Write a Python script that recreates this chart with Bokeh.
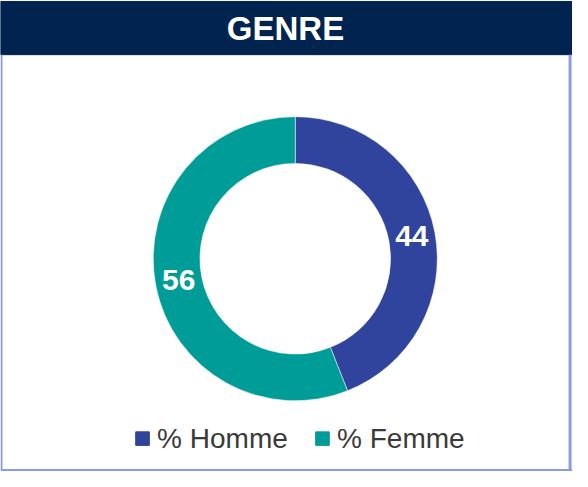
import math
from bokeh.plotting import figure
from bokeh.models import Range1d, ColumnDataSource
from bokeh.core.properties import value
from bokeh.embed import file_html
from bokeh.resources import INLINE

# ---- data ----
title = "GENRE"
categories = ["% Homme", "% Femme"]
values = [44, 56]
colors = ["#30439D", "#009C97"]

W, H = 572, 471
RW, RH = 588, 487
# data coords: x = reference x, y = RH - reference y
p = figure(width=W, height=H, output_backend="svg", toolbar_location=None,
           x_range=Range1d(0, RW), y_range=Range1d(0, RH),
           x_axis_type=None, y_axis_type=None, min_border=0,
           outline_line_color=None, background_fill_color="white")
p.grid.visible = False

# header band
p.quad(left=[0], right=[RW], bottom=[RH - 56], top=[RH - 1], color="#00234F")
p.text(x=[293], y=[RH - 29], text=[title], text_color="white",
       text_font=value("Liberation Sans"), text_font_style="bold",
       text_font_size="33px", text_align="center", text_baseline="middle")

# border
bc = "#8A9BE3"
p.segment(x0=[1, 585.5, 0], y0=[RH - 56, RH - 56, 1.5], x1=[1, 585.5, RW], y1=[1.5, 1.5, 1.5],
          line_color=bc, line_width=[2, 3, 2])

# donut
cx, cy = 303, RH - 267
r_out, r_in = 146, 98
total = sum(values)
starts, ends, mids = [], [], []
a = math.pi / 2
for v in values:
    s = a
    e = a - v / total * 2 * math.pi
    starts.append(s)
    ends.append(e)
    mids.append((s + e) / 2)
    a = e
src = ColumnDataSource(dict(start=starts, end=ends, color=colors))
p.annular_wedge(x=cx, y=cy, inner_radius=r_in, outer_radius=r_out,
                start_angle="start", end_angle="end", direction="clock",
                color="color", line_color="white", line_width=0.5, source=src)

rl = (r_in + r_out) / 2
lx = [cx + rl * math.cos(m) for m in mids]
ly = [cy + rl * math.sin(m) + 1 for m in mids]
p.text(x=lx, y=ly, text=[str(v) for v in values], text_color="white",
       text_font=value("Liberation Sans"), text_font_style="bold",
       text_font_size="30px", text_align="center", text_baseline="middle")

# legend
leg_x = [146, 331]
leg_y = RH - 453
p.rect(x=leg_x, y=[leg_y] * 2, width=14, height=14, color=colors)
p.text(x=[x + 15 for x in leg_x], y=[leg_y] * 2, text=categories,
       text_color="#3A3A3A", text_font=value("Liberation Sans"),
       text_font_size="28px", text_align="left", text_baseline="middle")

open("out.html", "w").write(file_html(p, INLINE))
